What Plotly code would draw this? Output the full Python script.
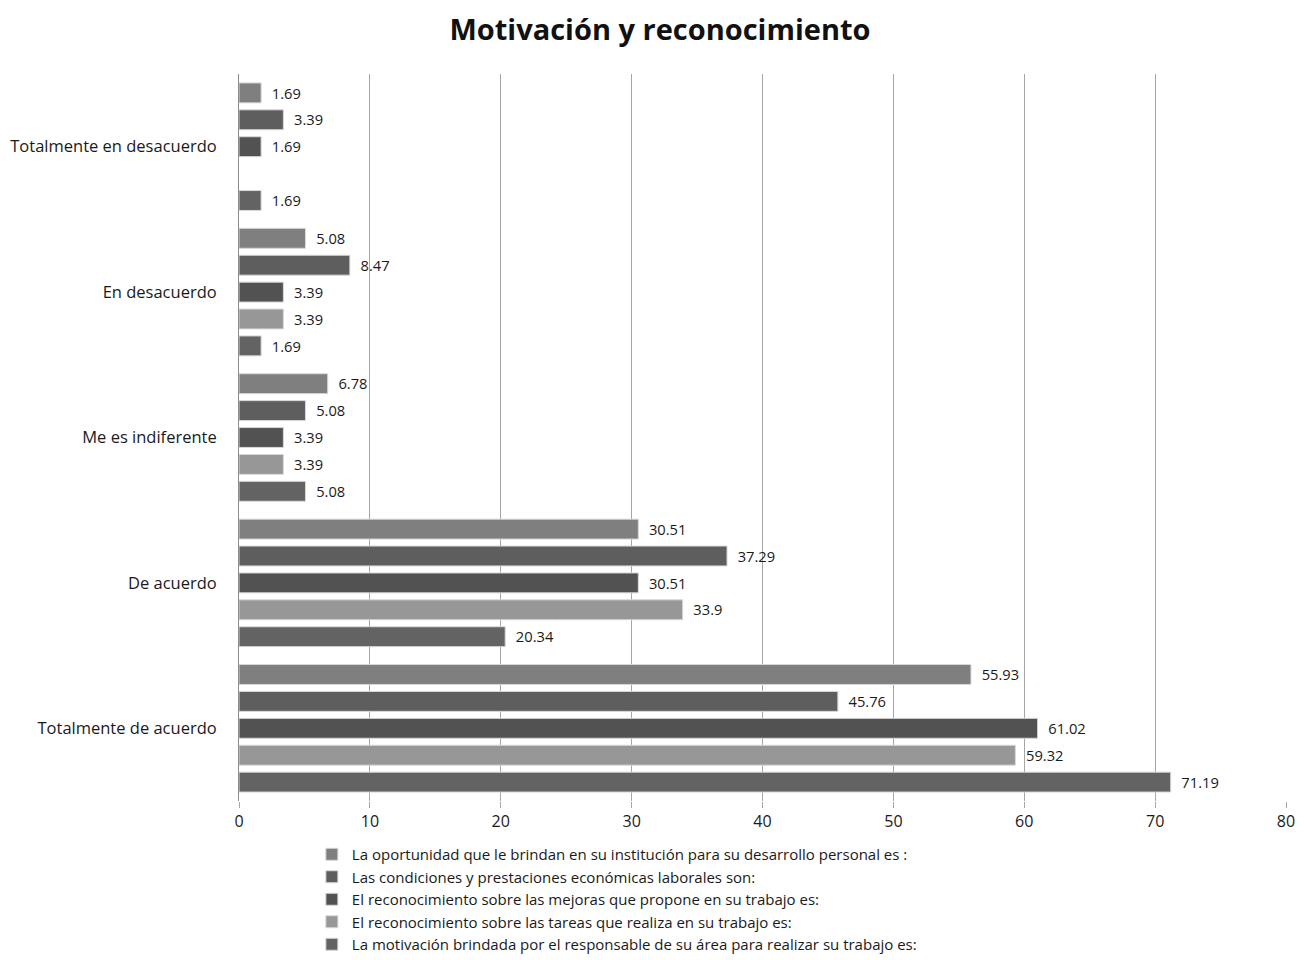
import plotly.graph_objects as go

categories = ["Totalmente en desacuerdo", "En desacuerdo", "Me es indiferente",
              "De acuerdo", "Totalmente de acuerdo"]

series_names = [
    "La oportunidad que le brindan en su institución para su desarrollo personal es :",
    "Las condiciones y prestaciones económicas laborales son:",
    "El reconocimiento sobre las mejoras que propone en su trabajo es:",
    "El reconocimiento sobre las tareas que realiza en su trabajo es:",
    "La motivación brindada por el responsable de su área para realizar su trabajo es:",
]

oportunidad = [1.69, 5.08, 6.78, 30.51, 55.93]
condiciones = [3.39, 8.47, 5.08, 37.29, 45.76]
reconocimiento_mejoras = [1.69, 3.39, 3.39, 30.51, 61.02]
reconocimiento_tareas = [None, 3.39, 3.39, 33.9, 59.32]
motivacion = [1.69, 1.69, 5.08, 20.34, 71.19]

series_values = [oportunidad, condiciones, reconocimiento_mejoras,
                 reconocimiento_tareas, motivacion]
colors = ["#7f7f7f", "#5e5e5e", "#525252", "#979797", "#636363"]

x_ticks = [0, 10, 20, 30, 40, 50, 60, 70, 80]

FONT = "'Open Sans', sans-serif"

W, H = 1288, 952

fig = go.Figure()
for name, vals, col in zip(series_names, series_values, colors):
    fig.add_trace(go.Bar(
        y=categories, x=vals, name=name, orientation="h",
        marker=dict(color=col, line=dict(color="#d8d8d8", width=1)),
        text=[("" if v is None else f"{v:g}") for v in vals],
        texttemplate="  %{text}",
        textposition="outside",
        textfont=dict(size=17, color="#1a1a1a", family=FONT),
        cliponaxis=False,
    ))

fig.update_layout(
    width=W, height=H,
    paper_bgcolor="white", plot_bgcolor="white",
    barmode="group", bargap=0.075, bargroupgap=0.26,
    title=dict(text="<b>Motivación y reconocimiento</b>", x=652 / W, xanchor="center",
               y=1 - 22 / H, yanchor="middle",
               font=dict(size=29, color="#111111", family=FONT)),
    margin=dict(l=231, r=10, t=66, b=159, autoexpand=False),
    font=dict(family=FONT, size=16, color="#1a1a1a"),
    showlegend=True,
    legend=dict(orientation="v", x=0.0696, xanchor="left",
                yref="container", y=1 - 830 / H, yanchor="top",
                font=dict(size=15, color="#1a1a1a", family=FONT),
                itemwidth=30, tracegroupgap=0, bgcolor="rgba(0,0,0,0)"),
)

fig.update_xaxes(range=[0, 80], tickvals=x_ticks, showgrid=True, gridcolor="#a6a6a6",
                 gridwidth=1, zeroline=False, showline=False, automargin=False,
                 ticks="outside", ticklen=6, tickcolor="#a6a6a6",
                 tickfont=dict(size=16, color="#1a1a1a", family=FONT), fixedrange=True)
fig.update_yaxes(autorange="reversed", showgrid=False, zeroline=False, automargin=False,
                 showline=True, linecolor="#8c8c8c", linewidth=1,
                 ticks="", ticklabelstandoff=18,
                 tickfont=dict(size=16.5, color="#1a1a1a", family=FONT))

fig.write_html("out.html")
